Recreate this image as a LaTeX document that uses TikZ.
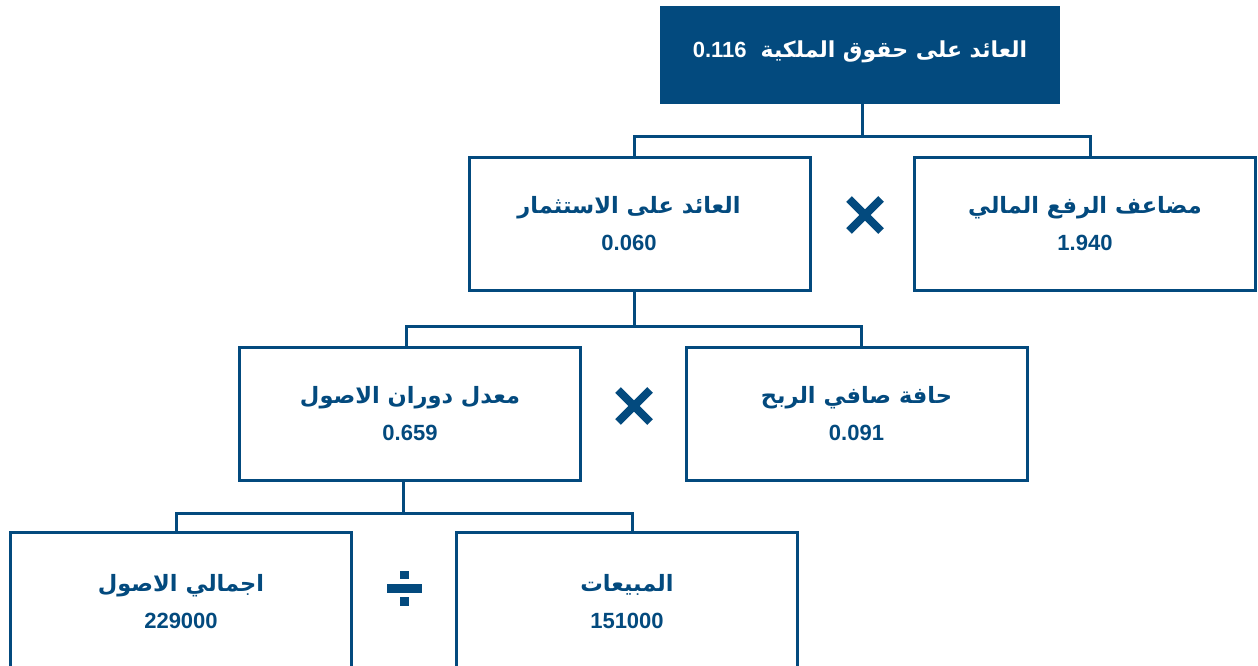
\documentclass[tikz,border=0pt]{standalone}
\usepackage{fontspec}
\setmainfont{Liberation Sans}
\newfontfamily\arabicfont[Script=Arabic]{DejaVu Sans}
\TeXXeTstate=1
\usetikzlibrary{shapes.misc}
\definecolor{navy}{RGB}{3,74,126}
\newcommand\artext[1]{{\arabicfont\fontsize{22.5}{37}\selectfont\beginR #1\endR}}
\begin{document}
\begin{tikzpicture}[x=1pt,y=-1pt,
  box/.style={draw=navy, line width=3pt, minimum width=341pt, minimum height=133pt,
    inner sep=0pt, align=center, text=navy, font={\bfseries\fontsize{22}{37}\selectfont}},
  openbox/.style={box, minimum height=138pt},
  topbox/.style={fill=navy, minimum width=400pt, minimum height=98pt, inner sep=0pt,
    text=white, font={\bfseries\fontsize{22}{25}\selectfont}},
  conn/.style={draw=navy, line width=3pt},
  timesmark/.style={draw=navy, cross out, line width=8pt, minimum size=24pt, inner sep=0pt},
  divpart/.style={fill=navy}
]
\useasboundingbox (0,0) rectangle (1258,666);

\node[topbox] (top) at (860,55) {\raisebox{3pt}[\height][\depth]{\beginR{\arabicfont\fontsize{22}{25}\selectfont العائد على حقوق الملكية}\hspace{14pt}\beginL 0.116\endL\endR}};

\node[box] (A) at (640,223.5) {\artext{العائد على الاستثمار}\hspace*{22pt}\\0.060\hspace*{22pt}};
\node[box] (B) at (1085,223.5) {\artext{مضاعف الرفع المالي}\\1.940};
\node[box] (C) at (410,413.5) {\artext{معدل دوران الاصول}\\0.659};
\node[box] (D) at (856.5,413.5) {\artext{حافة صافي الربح}\\0.091};
\node[openbox] (E) at (181,601.5) {\artext{اجمالي الاصول}\\229000};
\node[openbox] (F) at (627,601.5) {\artext{المبيعات}\\151000};

\node[timesmark] (x1) at (865,215) {};
\node[timesmark] (x2) at (634,406) {};

\fill[divpart] (387,584) rectangle (422,593);
\fill[divpart] (400,571) rectangle (409,579);
\fill[divpart] (400,597) rectangle (409,606);

\coordinate (j1) at (862,137);
\coordinate (j2) at (634,326);
\coordinate (j3) at (403,513);

\draw[conn] ([xshift=2pt]top.south) -- (j1);
\draw[conn] ([xshift=-6pt]A.north) |- (j1) -| ([xshift=5pt]B.north);
\draw[conn] ([xshift=-6pt]A.south) -- (j2);
\draw[conn] ([xshift=-4pt]C.north) |- (j2) -| ([xshift=4.5pt]D.north);
\draw[conn] ([xshift=-7pt]C.south) -- (j3);
\draw[conn] ([xshift=-5pt]E.north) |- (j3) -| ([xshift=5pt]F.north);
\end{tikzpicture}
\end{document}
